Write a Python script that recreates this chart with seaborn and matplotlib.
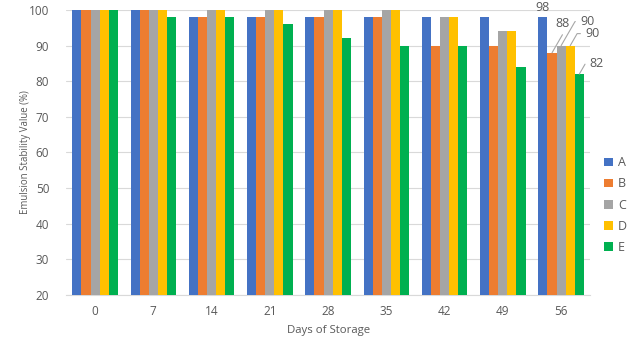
import matplotlib
matplotlib.use('Agg')
import matplotlib.pyplot as plt
import seaborn as sns
import pandas as pd

days = ['0', '7', '14', '21', '28', '35', '42', '49', '56']
samples = ['A', 'B', 'C', 'D', 'E']
val_a = [100, 100, 98, 98, 98, 98, 98, 98, 98]
val_b = [100, 100, 98, 98, 98, 98, 90, 90, 88]
val_c = [100, 100, 100, 100, 100, 100, 98, 94, 90]
val_d = [100, 100, 100, 100, 100, 100, 98, 94, 90]
val_e = [100, 98, 98, 96, 92, 90, 90, 84, 82]
colors = ['#4472C4', '#ED7D31', '#A5A5A5', '#FFC000', '#00B050']

rows = []
for s, vals in zip(samples, [val_a, val_b, val_c, val_d, val_e]):
    for d, v in zip(days, vals):
        rows.append({'Day': d, 'Sample': s, 'Value': v})
df = pd.DataFrame(rows)

sns.set_style('white')
plt.rcParams['font.family'] = ['Open Sans', 'DejaVu Sans']
text_col = '#595959'

fig = plt.figure(figsize=(6.34, 3.39), dpi=100)
ax = fig.add_axes([0.104, 0.13, 0.827, 0.8405])
sns.barplot(data=df, x='Day', y='Value', hue='Sample', order=days,
            hue_order=samples, palette=colors, width=0.78, saturation=1,
            linewidth=0, edgecolor='none', ax=ax, zorder=3)

ax.set_ylim(20, 100)
ax.set_yticks(range(20, 101, 10))
ax.yaxis.grid(True, color='#D9D9D9', linewidth=0.8, zorder=0)
for sp in ['top', 'right', 'left']:
    ax.spines[sp].set_visible(False)
ax.spines['bottom'].set_color('#D9D9D9')
ax.tick_params(axis='both', length=0, labelsize=8.5, colors=text_col, pad=7)
ax.tick_params(axis='y', pad=12)
ax.set_xlabel('Days of Storage', fontsize=8.2, color=text_col, labelpad=5)
ax.set_ylabel('Emulsion Stability Value (%)', fontsize=6.9, color=text_col, labelpad=-1.5)

# labels for last day with leader lines
offsets = [(0, 10), (10, 29), (26, 24), (22, 12), (17, 11)]
for i, cont in enumerate(ax.containers):
    bar = cont[-1]
    x = bar.get_x() + bar.get_width() / 2
    y = bar.get_height()
    dx, dy = offsets[i]
    if i == 0:
        ax.annotate(str(int(y)), (x, y), xytext=(dx, dy), textcoords='offset pixels',
                    ha='center', va='center', fontsize=9, color=text_col,
                    annotation_clip=False)
    else:
        ax.annotate(str(int(y)), (x, y), xytext=(dx, dy), textcoords='offset pixels',
                    ha='center', va='center', fontsize=9, color=text_col,
                    annotation_clip=False,
                    arrowprops=dict(arrowstyle='-', color='#A6A6A6', lw=0.8,
                                    shrinkA=1, shrinkB=0,
                                    connectionstyle='angle,angleA=0,angleB=60,rad=0'))

ax.legend(loc='center left', bbox_to_anchor=(0.935, 0.395), bbox_transform=fig.transFigure,
          frameon=False, fontsize=9, labelcolor=text_col, handlelength=0.7,
          handleheight=0.7, handletextpad=0.4, labelspacing=0.65)

fig.savefig('out.png', dpi=100)
